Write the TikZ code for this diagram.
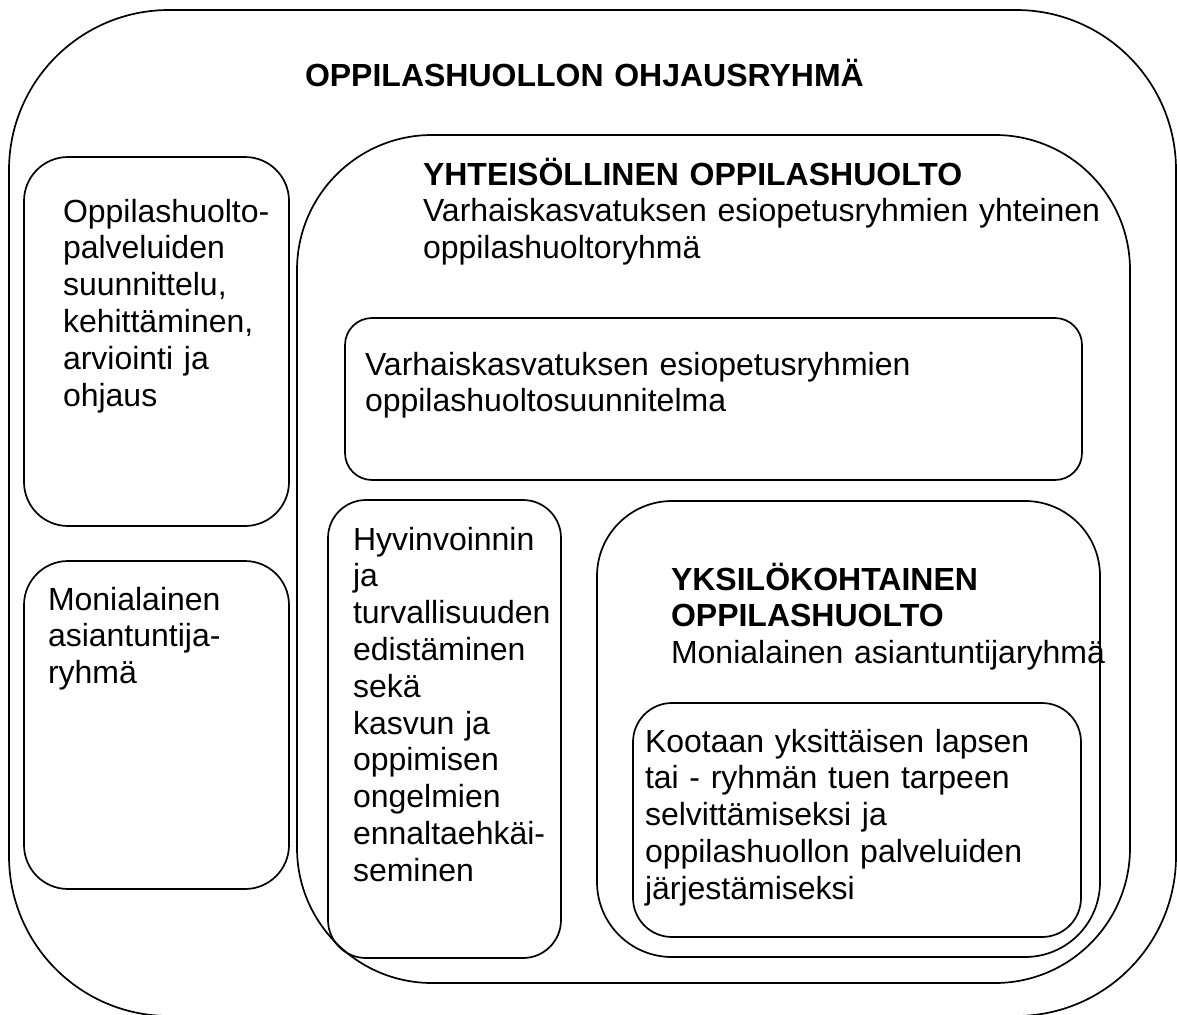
\documentclass[tikz,border=0pt]{standalone}
\usepackage{fontspec}
\setmainfont{Liberation Sans}
\usepackage{tikz}
\tikzstyle{kehys}=[draw, line width=1.7pt, outer sep=0pt, inner sep=0pt,
  anchor=north west]
\tikzstyle{teksti}=[inner sep=0pt, outer sep=0pt, anchor=base west,
  align=left, text width=900pt, font=\fontsize{32}{36.8}\selectfont]
\newcommand{\laatikko}[5]{%
  \path (#2) node (#1) [kehys, minimum width=#3, minimum height=#4,
    rounded corners=#5] {};}

\begin{document}
\begin{tikzpicture}[x=1pt,y=-1pt]
  \useasboundingbox (0,0) rectangle (1177,1014);

  % Draw the frames
  \laatikko{ulko}{9,10}{1167}{1006}{160}
  \laatikko{bA}{24,157}{265}{369}{44}
  \laatikko{bB}{24,561}{265}{328}{44}
  \laatikko{bC}{297,135}{833}{848}{135}
  \laatikko{bD}{345,318}{737}{162}{27}
  \laatikko{bE}{328,500}{233}{458}{38}
  \laatikko{bF}{597,501}{503}{456}{75}
  \laatikko{bG}{633,703}{448}{234}{39}

  % Texts of the frames
  \path (ulko.north west)+(296,77) node (otsikko) [teksti]
    {\textbf{OPPILASHUOLLON OHJAUSRYHMÄ}};
  \path (bA.north west)+(39,65) node (tA) [teksti]
    {Oppilashuolto-\\palveluiden\\suunnittelu,\\kehittäminen,\\arviointi ja\\ohjaus};
  \path (bB.north west)+(24,49) node (tB) [teksti]
    {Monialainen\\asiantuntija-\\ryhmä};
  \path (bC.north west)+(126,50) node (tC) [teksti]
    {\textbf{YHTEISÖLLINEN OPPILASHUOLTO}\\Varhaiskasvatuksen esiopetusryhmien yhteinen\\oppilashuoltoryhmä};
  \path (bD.north west)+(20,57) node (tD) [teksti]
    {Varhaiskasvatuksen esiopetusryhmien\\oppilashuoltosuunnitelma};
  \path (bE.north west)+(25,50) node (tE) [teksti]
    {Hyvinvoinnin\\ja\\turvallisuuden\\edistäminen\\sekä\\kasvun ja\\oppimisen\\ongelmien\\ennaltaehkäi-\\seminen};
  \path (bF.north west)+(74,89) node (tF) [teksti]
    {\textbf{YKSILÖKOHTAINEN}\\\textbf{OPPILASHUOLTO}\\Monialainen asiantuntijaryhmä};
  \path (bG.north west)+(12,49) node (tG) [teksti]
    {Kootaan yksittäisen lapsen\\tai - ryhmän tuen tarpeen\\selvittämiseksi ja\\oppilashuollon palveluiden\\järjestämiseksi};
\end{tikzpicture}
\end{document}
